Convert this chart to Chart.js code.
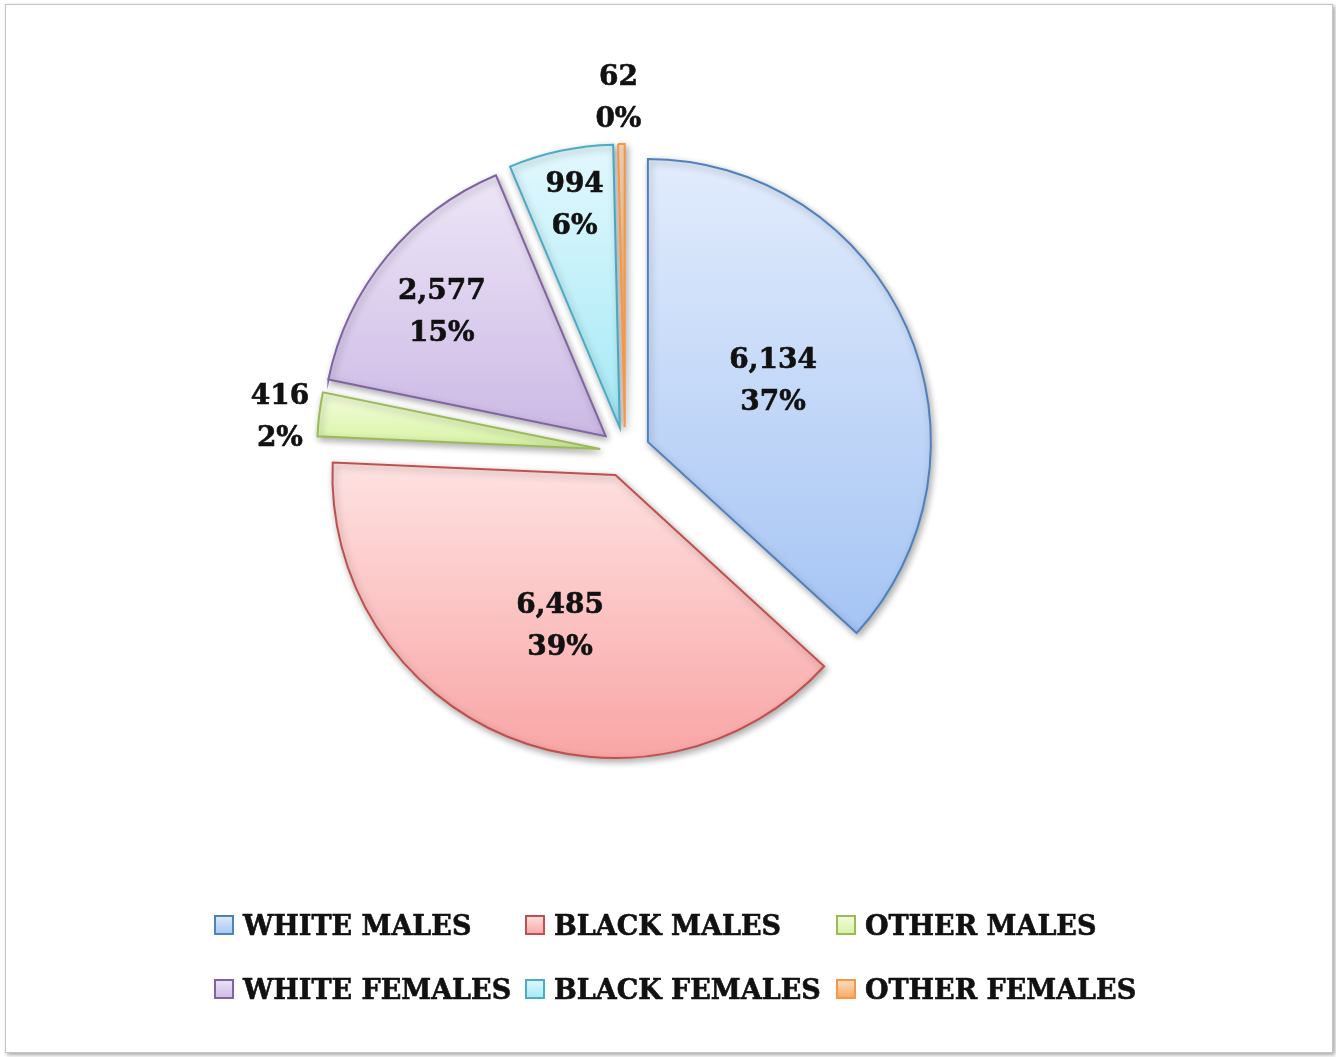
<!DOCTYPE html>
<html><head><meta charset="utf-8">
<script src="https://cdn.jsdelivr.net/npm/chart.js@4/dist/chart.umd.min.js"></script>
<style>
html,body{margin:0;padding:0;background:#fff;}
#frame{position:absolute;left:5px;top:4px;width:1326px;height:1047px;border:1px solid #c4c4c4;box-shadow:2px 2px 4px rgba(0,0,0,0.35);background:#fff;}
#c{position:absolute;left:0;top:0;}
</style></head><body>
<div id="frame"></div>
<canvas id="c" width="1336" height="1057"></canvas>
<script>
const categories = ['WHITE MALES','BLACK MALES','OTHER MALES','WHITE FEMALES','BLACK FEMALES','OTHER FEMALES'];
const counts = [6134, 6485, 416, 2577, 994, 62];
const borderColors = ['#4f81bd','#c0504d','#9bbb59','#8064a2','#4bacc6','#f79646'];
const gradientTops = ['#e2ecfc','#fee2e2','#f4fddc','#eee6f7','#e2f8fd','#fde2c6'];
const gradientBottoms = ['#a5c4f4','#f9a5a5','#d6f2a4','#cbb9e5','#a4e9f6','#f7a65e'];
// label placement: radial fraction of the radius and angular fraction across the slice
const labelRadius = [0.495, 0.561, 1.138, 0.731, 0.811, 1.171];
const labelAngle = [0.478, 0.485, 0.39, 0.469, 0.534, 0.19];

const EXPLODE = 25;
const RADIUS = 283;
const FONT = '"DejaVu Serif", "Liberation Serif", serif';
const total = counts.reduce((a, b) => a + b, 0);

// exploded slices: shift every arc outward along its mid-angle
const baseArcDraw = Chart.ArcElement.prototype.draw;
Chart.ArcElement.prototype.draw = function (ctx) {
  const mid = (this.startAngle + this.endAngle) / 2;
  ctx.save();
  ctx.translate(Math.cos(mid) * EXPLODE, Math.sin(mid) * EXPLODE);
  baseArcDraw.call(this, ctx);
  ctx.restore();
};

function sliceAngles(i) {
  let s = 0;
  for (let k = 0; k < i; k++) s += counts[k];
  const a0 = -Math.PI / 2 + s / total * 2 * Math.PI;
  const a1 = a0 + counts[i] / total * 2 * Math.PI;
  return [a0, a1];
}

function fillFor(ctx) {
  const chart = ctx.chart, area = chart.chartArea, i = ctx.dataIndex;
  if (!area || i === undefined) return gradientBottoms[i] || '#ccc';
  const cy = (area.top + area.bottom) / 2;
  const [a0, a1] = sliceAngles(i);
  const ys = [cy, cy + Math.sin(a0) * RADIUS, cy + Math.sin(a1) * RADIUS];
  for (const t of [-Math.PI / 2, Math.PI / 2, 3 * Math.PI / 2]) {
    if (t >= a0 && t <= a1) ys.push(cy + Math.sin(t) * RADIUS);
  }
  const g = chart.ctx.createLinearGradient(0, Math.min(...ys), 0, Math.max(...ys));
  g.addColorStop(0, gradientTops[i]);
  g.addColorStop(1, gradientBottoms[i]);
  return g;
}

const shadowPlugin = {
  id: 'sliceShadow',
  beforeDatasetsDraw(chart) {
    const c = chart.ctx;
    c.save();
    c.shadowColor = 'rgba(0,0,0,0.32)';
    c.shadowBlur = 7;
    c.shadowOffsetX = 2;
    c.shadowOffsetY = 3;
  },
  afterDatasetsDraw(chart) { chart.ctx.restore(); }
};

function boldText(ctx, txt, x, y) {
  ctx.fillText(txt, x, y);
  ctx.strokeText(txt, x, y);
}

const labelPlugin = {
  id: 'sliceLabels',
  afterDatasetsDraw(chart) {
    const ctx = chart.ctx;
    const data = chart.data.datasets[0].data;
    const sum = data.reduce((a, b) => a + b, 0);
    chart.getDatasetMeta(0).data.forEach((arc, i) => {
      const p = arc.getProps(['x', 'y', 'startAngle', 'endAngle', 'outerRadius'], true);
      const mid = (p.startAngle + p.endAngle) / 2;
      const ang = p.startAngle + labelAngle[i] * (p.endAngle - p.startAngle);
      const ax = p.x + Math.cos(mid) * EXPLODE, ay = p.y + Math.sin(mid) * EXPLODE;
      const lx = ax + Math.cos(ang) * labelRadius[i] * p.outerRadius;
      const ly = ay + Math.sin(ang) * labelRadius[i] * p.outerRadius + 3;
      ctx.save();
      ctx.font = 'bold 28px ' + FONT;
      ctx.fillStyle = '#111';
      ctx.strokeStyle = '#111';
      ctx.lineWidth = 0.6;
      ctx.textAlign = 'center';
      ctx.textBaseline = 'middle';
      boldText(ctx, data[i].toLocaleString('en-US'), lx, ly - 21);
      boldText(ctx, Math.round(data[i] / sum * 100) + '%', lx, ly + 21);
      ctx.restore();
    });
  }
};

const legendPlugin = {
  id: 'gridLegend',
  afterDraw(chart) {
    const ctx = chart.ctx;
    const colX = [214, 525, 836];
    const rowY = [925, 989];
    const box = 20;
    chart.data.labels.forEach((lab, i) => {
      const bx = colX[i % 3], cy = rowY[Math.floor(i / 3)];
      const by = cy - box / 2;
      ctx.save();
      const g = ctx.createLinearGradient(0, by, 0, by + box);
      g.addColorStop(0, gradientTops[i]);
      g.addColorStop(1, gradientBottoms[i]);
      ctx.fillStyle = g;
      ctx.fillRect(bx, by, box, box);
      ctx.strokeStyle = borderColors[i];
      ctx.lineWidth = 2;
      ctx.strokeRect(bx + 1, by + 1, box - 2, box - 2);
      ctx.font = 'bold 27px ' + FONT;
      ctx.fillStyle = '#111';
      ctx.strokeStyle = '#111';
      ctx.lineWidth = 0.6;
      ctx.textAlign = 'left';
      ctx.textBaseline = 'middle';
      boldText(ctx, lab, bx + 29, cy + 3);
      ctx.restore();
    });
  }
};

new Chart(document.getElementById('c'), {
  type: 'pie',
  data: {
    labels: categories,
    datasets: [{
      data: counts,
      backgroundColor: fillFor,
      borderColor: borderColors,
      borderWidth: 2,
      borderJoinStyle: 'miter',
      offset: 0,
      hoverOffset: 0,
      radius: RADIUS
    }]
  },
  options: {
    responsive: false,
    animation: false,
    devicePixelRatio: 1,
    radius: RADIUS,
    layout: { padding: { left: 0, right: 86, top: 0, bottom: 153 } },
    plugins: { legend: { display: false }, tooltip: { enabled: false } },
    events: []
  },
  plugins: [shadowPlugin, labelPlugin, legendPlugin]
});
</script>
</body></html>
